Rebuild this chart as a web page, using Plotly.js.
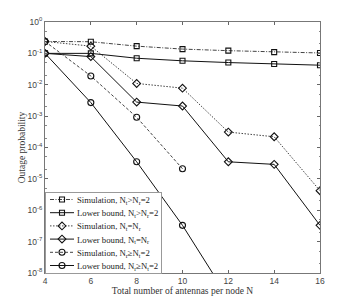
<!DOCTYPE html>
<html>
<head>
<meta charset="utf-8">
<script src="https://cdn.plot.ly/plotly-3.0.1.min.js"></script>
<style>html,body{margin:0;padding:0;background:#fff;}#chart{width:353px;height:306px;}</style>
</head>
<body>
<div id="chart"></div>
<script>
// Total number of antennas per node N
var N = [4, 6, 8, 10, 12, 14, 16];
var N_C_sim = [4, 6, 8, 10];
var N_C_low = [4, 6, 8, 10, 12];

// Nt > Nr = 2 (squares)
var simA = [0.24, 0.235, 0.17, 0.137, 0.122, 0.11, 0.103];
var lowA = [0.1, 0.1, 0.07, 0.058, 0.051, 0.046, 0.042];
// Nt = Nr (diamonds)
var simB = [0.24, 0.17, 0.011, 0.0078, 3.1e-4, 2.2e-4, 4.2e-6];
var lowB = [0.1, 0.079, 0.0028, 0.0021, 3.5e-5, 2.9e-5, 3.3e-7];
// Nr >= Nt = 2 (circles)
var simC = [0.24, 0.019, 9.2e-4, 2.1e-5];
var lowC = [0.1, 0.0027, 3.5e-5, 3.3e-7, 1.6e-9];

var names = [
  'Simulation, N<sub>t</sub>&gt;N<sub>r</sub>=2',
  'Lower bound, N<sub>t</sub>&gt;N<sub>r</sub>=2',
  'Simulation, N<sub>t</sub>=N<sub>r</sub>',
  'Lower bound, N<sub>t</sub>=N<sub>r</sub>',
  'Simulation, N<sub>r</sub>\u2265N<sub>t</sub>=2',
  'Lower bound, N<sub>r</sub>\u2265N<sub>t</sub>=2'
];

var xTicks = [4, 6, 8, 10, 12, 14, 16];
var yTickVals = [1, 1e-1, 1e-2, 1e-3, 1e-4, 1e-5, 1e-6, 1e-7, 1e-8];
var yTickText = ['10<sup>0</sup>', '10<sup>-1</sup>', '10<sup>-2</sup>', '10<sup>-3</sup>', '10<sup>-4</sup>',
                 '10<sup>-5</sup>', '10<sup>-6</sup>', '10<sup>-7</sup>', '10<sup>-8</sup>'];

var simColor = '#444444';
var lowColor = '#111111';

function tr(x, y, name, sym, color, dash, msize) {
  return {
    x: x, y: y, name: name, type: 'scatter', mode: 'lines+markers',
    line: {color: color, width: 1, dash: dash},
    marker: {symbol: sym, size: msize, color: '#111', line: {width: 1.1, color: '#111'}}
  };
}

var data = [
  tr(N, simA, names[0], 'square-open', simColor, '4px,1.5px,1px,1.5px', 5),
  tr(N, lowA, names[1], 'square-open', lowColor, 'solid', 5),
  tr(N, simB, names[2], 'diamond-open', simColor, '1.5px,1.5px', 6),
  tr(N, lowB, names[3], 'diamond-open', lowColor, 'solid', 6),
  tr(N_C_sim, simC, names[4], 'circle-open', simColor, '3px,2px', 6),
  tr(N_C_low, lowC, names[5], 'circle-open', lowColor, 'solid', 6)
];

var layout = {
  width: 353, height: 306,
  margin: {l: 45, r: 33, t: 22, b: 33},
  paper_bgcolor: '#fff', plot_bgcolor: '#fff',
  showlegend: true,
  legend: {
    x: 0, y: 0, xanchor: 'left', yanchor: 'bottom',
    bgcolor: '#fff', bordercolor: '#999', borderwidth: 1,
    font: {family: 'Liberation Serif, Times New Roman, serif', size: 8.7, color: '#222'},
    itemwidth: 30, tracegroupgap: 0
  },
  xaxis: {
    range: [4, 16], tickvals: xTicks, ticktext: xTicks.map(String),
    ticks: 'inside', ticklen: 3, tickcolor: '#666',
    showline: true, linecolor: '#777', linewidth: 1, mirror: 'ticks',
    showgrid: false, zeroline: false,
    tickfont: {family: 'Liberation Sans, Arial, sans-serif', size: 8.5, color: '#444'},
    title: {text: 'Total number of antennas per node N', standoff: 2,
            font: {family: 'Liberation Serif, Times New Roman, serif', size: 9.5, color: '#333'}}
  },
  yaxis: {
    type: 'log', range: [-8, 0],
    tickvals: yTickVals, ticktext: yTickText,
    ticks: 'inside', ticklen: 3, tickcolor: '#666',
    minor: {ticks: 'inside', ticklen: 1.5, tickcolor: '#888', showgrid: false},
    showline: true, linecolor: '#777', linewidth: 1, mirror: 'ticks',
    showgrid: false, zeroline: false,
    tickfont: {family: 'Liberation Sans, Arial, sans-serif', size: 8.5, color: '#444'},
    title: {text: 'Outage probability', standoff: 0,
            font: {family: 'Liberation Serif, Times New Roman, serif', size: 9.5, color: '#333'}}
  }
};

function compactLegend(gd) {
  try {
    var leg = gd.querySelector('.legend');
    if (!leg) return;
    var bg = leg.querySelector('rect.bg');
    var items = leg.querySelectorAll('.traces');
    var step = 13.2, top = 7.5, maxRight = 0;
    items.forEach(function (it, i) {
      it.setAttribute('transform', 'translate(1,' + (top + i * step) + ')');
      var ln = it.querySelector('.legendlines path');
      if (ln) ln.setAttribute('d', 'M4,0h24');
      var pts = it.querySelectorAll('.legendpoints path');
      pts.forEach(function (p) { p.setAttribute('transform', 'translate(16,0)'); });
      var txt = it.querySelector('.legendtext');
      if (txt) {
        txt.setAttribute('x', 31);
        var b = txt.getBBox();
        maxRight = Math.max(maxRight, b.x + b.width);
      }
    });
    var newH = top + (items.length - 1) * step + 7.5;
    var newW = maxRight + 4;
    var fl = gd._fullLayout, ys = fl._size;
    var lx = ys.l, ly = ys.t + ys.h - newH;
    leg.setAttribute('transform', 'translate(' + lx + ',' + ly + ')');
    if (bg) {
      bg.setAttribute('height', newH);
      bg.setAttribute('width', newW);
    }
  } catch (e) {}
}

Plotly.newPlot('chart', data, layout, {displayModeBar: false, staticPlot: true}).then(compactLegend);
</script>
</body>
</html>
